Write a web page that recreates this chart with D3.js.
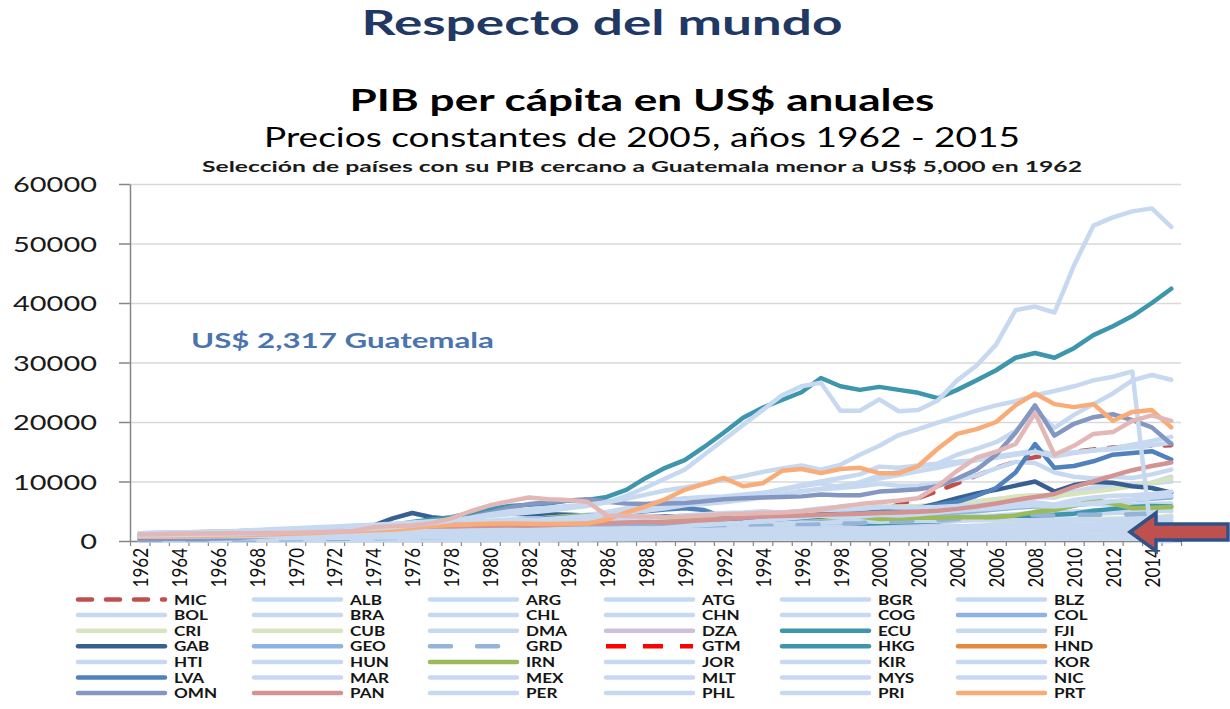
<!DOCTYPE html>
<html>
<head>
<meta charset="utf-8">
<script src="https://cdn.jsdelivr.net/npm/d3@7"></script>
<style>
  body { margin: 0; background: #fff; }
  svg text { font-family: Lato, "Open Sans", sans-serif; }
</style>
</head>
<body>
<svg id="chart" width="1230" height="709"></svg>
<script>
// ---------- data (PIB per capita, US$ constantes 2005) ----------
const years = [1962,1963,1964,1965,1966,1967,1968,1969,1970,1971,1972,1973,1974,1975,1976,1977,1978,1979,
  1980,1981,1982,1983,1984,1985,1986,1987,1988,1989,1990,1991,1992,1993,1994,1995,1996,1997,1998,1999,
  2000,2001,2002,2003,2004,2005,2006,2007,2008,2009,2010,2011,2012,2013,2014,2015];
const tickYears = [1962,1964,1966,1968,1970,1972,1974,1976,1978,1980,1982,1984,1986,1988,1990,1992,1994,
  1996,1998,2000,2002,2004,2006,2008,2010,2012,2014];
const yTicks = [0,10000,20000,30000,40000,50000,60000];

// legend order (also drawing order)
const codes = ["MIC","ALB","ARG","ATG","BGR","BLZ","BOL","BRA","CHL","CHN","COG","COL","CRI","CUB","DMA",
  "DZA","ECU","FJI","GAB","GEO","GRD","GTM","HKG","HND","HTI","HUN","IRN","JOR","KIR","KOR","LVA","MAR",
  "MEX","MLT","MYS","NIC","OMN","PAN","PER","PHL","PRI","PRT"];
// series drawn but left out of the (cut) legend
const extraCodes = ["MAC","TTO"];

const MIC = [280,300,320,340,360,380,400,430, 460,490,520,560,600,640,680,720,770,820,
  880,930,980,1050,1150,1300,1500,1700,1900,2100, 2350,2500,2650,2800,2950,3000,3100,3300,3700,4400,
  5200,6100,7200,8400,9700,11000,12300,13300,14100,14500, 15000,15400,15700,15900,16000,16100];
const ALB = [600,620,640,660,690,720,750,780, 810,840,870,900,930,960,990,1010,1040,1060,
  1090,1120,1140,1150,1160,1150,1170,1140,1110,1200, 1050,760,720,800,870,1000,1090,980,1080,1220,
  1300,1400,1450,1530,1620,1700,1800,1920,2090,2170, 2250,2300,2330,2360,2400,2470];
const ARG = [1250,1200,1300,1400,1450,1500,1550,1650, 1750,1850,1950,2100,2300,2400,2500,2700,2750,3000,
  3300,3200,3100,3200,3350,3200,3400,3600,3500,3300, 3400,3800,4200,4500,4900,4800,5100,5500,5700,5500,
  5400,5100,4500,4900,5400,5900,6400,7000,7400,7300, 8300,9000,9100,9400,9800,10800];
const ATG = [900,950,1000,1050,1100,1150,1200,1280, 1350,1420,1500,1580,1650,1700,1800,1950,2100,2300,
  2600,2900,3100,3400,3800,4300,4900,5500,6200,6800, 7200,7400,7500,7800,8100,7900,8400,8700,8900,9200,
  9600,9300,9300,9700,10300,11000,12200,13300,13100,11500, 10800,10500,10800,10600,11200,12000];
const BGR = [700,750,800,850,900,950,1000,1060, 1120,1180,1250,1320,1400,1480,1550,1620,1700,1760,
  1900,2000,2100,2200,2350,2450,2600,2750,2900,2850, 2600,2350,2200,2200,2250,2300,2100,2000,2150,2300,
  2500,2700,2900,3100,3350,3600,3900,4200,4600,4400, 4500,4600,4700,4800,4950,5200];
const BLZ = [650,680,700,730,760,800,830,870, 900,950,1000,1050,1120,1200,1250,1300,1400,1450,
  1550,1550,1500,1480,1520,1600,1700,1850,2050,2300, 2500,2600,2750,2800,2800,2750,2700,2750,2800,2900,
  3150,3250,3300,3450,3550,3600,3700,3700,3650,3600, 3650,3700,3750,3800,3900,4200];
const BOL = [650,670,690,720,750,780,800,820, 840,860,880,900,930,960,990,1000,1010,1000,
  990,980,940,900,880,860,830,820,830,840, 850,870,880,890,900,920,930,950,970,960,
  970,970,980,990,1010,1030,1060,1100,1150,1170, 1190,1220,1250,1300,1330,1360];
const BRA = [1000,1020,1050,1080,1150,1250,1380,1500, 1660,1820,1980,2150,2300,2380,2520,2600,2700,2800,
  2900,2800,2750,2600,2700,2850,3000,3050,3000,3050, 3300,3250,3200,3300,3450,3550,3600,3700,3650,3650,
  3900,3900,3950,3950,4100,4200,4300,4500,4700,4650, 4950,5100,5150,5250,5200,5000];
const CHL = [1300,1320,1350,1380,1450,1470,1500,1530, 1550,1680,1650,1560,1500,1300,1450,1650,1850,2050,
  2200,2350,2000,1950,2050,2150,2300,2450,2600,2750, 2800,3000,3400,3600,3800,4200,4400,4600,4700,4600,
  5000,5300,5600,5900,6300,6700,7000,7400,7700,7500, 8000,8500,9000,9400,9700,10000];
const CHN = [80,75,85,95,105,100,95,105, 120,125,130,135,140,140,135,145,160,170,
  180,190,200,215,240,270,290,310,340,360, 370,400,450,510,560,620,670,720,770,820,
  950,1030,1120,1230,1350,1480,1650,1850,2030,2210, 2400,2650,2850,3100,3300,3500];
const COG = [800,820,840,870,900,920,950,980, 1010,1050,1090,1120,1160,1200,1240,1200,1150,1250,
  1400,1550,1700,1750,1700,1650,1550,1500,1480,1450, 1500,1520,1500,1480,1400,1450,1450,1450,1500,1600,
  1750,1780,1790,1780,1790,1840,1900,1850,1900,1980, 2100,2110,2160,2150,2180,2100];
const COL = [1100,1150,1200,1250,1350,1450,1600,1750, 1900,2000,2100,2200,2300,2400,2500,2600,2750,2900,
  3000,3050,3050,3100,3150,3200,3300,3400,3500,3600, 3800,3800,3900,4000,4150,4300,4300,4400,4300,4150,
  4400,4450,4500,4600,4800,5000,5300,5600,5800,5800, 6000,6300,6600,6900,7100,7300];
const CRI = [1300,1300,1350,1400,1500,1600,1700,1850, 2000,2100,2250,2400,2450,2500,2600,2800,2950,3100,
  3300,3200,2800,2800,3000,3150,3350,3550,3700,3850, 4000,4050,4300,4500,4600,4550,4500,4650,4900,5400,
  5800,5800,5900,6100,6300,6600,7000,7500,7700,7500, 7900,8300,8700,9200,9800,10500];
const CUB = [700,720,740,760,780,800,820,850, 900,950,1000,1050,1100,1150,1200,1250,1300,1350,
  1400,1500,1550,1600,1650,1700,1750,1800,1800,1750, 1700,1500,1300,1200,1200,1250,1300,1400,1500,1550,
  1700,1750,1800,1900,2100,2400,2800,3100,3300,3350, 3500,3600,3700,3800,3900,4100];
const DMA = [1000,1020,1050,1080,1100,1150,1200,1250, 1300,1350,1400,1450,1500,1550,1600,1700,1800,1900,
  2100,2300,2500,2700,2900,3100,3300,3500,3700,3900, 4100,4300,4450,4600,4650,4700,4800,4900,5000,5100,
  5200,5100,5000,5100,5300,5400,5600,5900,6200,6100, 6200,6200,6100,6100,6200,6300];
const DZA = [900,950,1000,1050,1000,1050,1100,1200, 1300,1200,1400,1450,1500,1550,1650,1700,1800,1900,
  2150,2150,2200,2250,2250,2200,2150,2100,2050,2050, 2000,1980,1980,1950,1950,2000,2050,2100,2150,2180,
  2200,2250,2300,2400,2450,2550,2550,2600,2600,2600, 2650,2650,2700,2700,2750,2750];
const ECU = [1100,1100,1150,1200,1250,1300,1350,1400, 1500,1550,1650,1900,2000,2100,2250,2350,2500,2600,
  2700,2750,2700,2600,2650,2700,2600,2550,2700,2700, 2900,2950,3000,3050,3100,3100,3150,3200,3200,2900,
  3000,3100,3200,3300,3600,3750,3900,4050,4300,4400, 4600,5100,5400,5700,5900,5800];
const FJI = [1100,1130,1160,1200,1230,1270,1320,1380, 1460,1550,1650,1750,1850,1900,1950,2050,2100,2250,
  2400,2550,2550,2500,2650,2550,2700,2750,2850,2650, 2800,2850,2900,3000,3050,3050,3100,3050,3200,3300,
  3250,3300,3350,3400,3500,3500,3550,3500,3500,3400, 3450,3500,3550,3700,3800,3900];
const GAB = [700,750,800,850,900,950,1000,1100, 1200,1400,1600,1900,2600,3800,4700,4000,3700,4300,
  5000,4600,4500,4500,4400,4300,4200,3900,4000,4100, 4200,4300,4200,4200,4300,4400,4500,4600,4600,4500,
  4800,5100,5500,6300,7200,8000,8600,9300,10000,8300, 9400,9900,9800,9200,8900,8100];
const GEO = [900,950,1000,1050,1100,1150,1200,1250, 1300,1350,1400,1450,1500,1600,1700,1800,1900,2000,
  2100,2200,2300,2400,2500,2600,2700,2800,2850,2900, 2700,2100,1200,900,800,850,900,950,1000,1050,
  1100,1150,1200,1350,1450,1600,1750,1950,2000,1950, 2100,2250,2400,2500,2600,2700];
const GRD = [170,180,190,200,210,220,230,250, 280,310,350,400,450,500,550,620,700,800,
  900,1000,1100,1200,1300,1400,1500,1600,1700,1800, 1950,2100,2250,2400,2500,2600,2700,2800,2900,3000,
  3200,3300,3400,3500,3700,3900,4100,4300,4400,4300, 4400,4400,4400,4500,4600,4700];
const GTM = [1100,1150,1200,1230,1260,1300,1350,1400, 1450,1500,1550,1600,1680,1720,1780,1850,1900,1950,
  2000,1950,1870,1800,1780,1750,1720,1700,1720,1750, 1750,1770,1800,1820,1850,1880,1900,1920,1950,1980,
  1990,1990,2000,2000,2020,2050,2100,2170,2200,2180, 2190,2220,2240,2260,2290,2317];
const HKG = [600,650,700,800,900,1000,1150,1300, 1500,1700,1900,2200,2500,2700,3200,3600,4000,4700,
  5400,5900,6100,6300,6800,6900,7400,8600,10600,12300, 13600,15800,18200,20700,22400,23700,25000,27400,26000,25400,
  25900,25400,24900,24000,25400,27000,28700,30800,31600,30800, 32400,34600,36100,37800,40000,42400];
const HND = [900,920,940,970,1000,1030,1050,1080, 1100,1100,1120,1150,1180,1200,1180,1250,1350,1450,
  1500,1480,1400,1370,1380,1400,1420,1430,1460,1470, 1450,1460,1500,1560,1530,1560,1580,1600,1650,1600,
  1650,1650,1680,1700,1750,1800,1870,1950,1970,1900, 1920,1950,1970,1980,2000,2050];
const HTI = [500,480,470,460,450,460,470,480, 500,520,540,560,580,600,620,640,660,680,
  700,680,650,640,630,620,610,600,590,580, 570,560,520,500,450,460,470,480,490,500,
  490,480,470,470,440,440,440,450,450,460, 440,460,460,470,470,460];
const HUN = [900,950,1000,1080,1160,1250,1400,1600, 1800,1900,2000,2100,2250,2400,2550,2700,2900,3100,
  3300,3500,3700,3900,4100,4400,4700,5000,5400,5700, 6000,6200,6500,6900,7300,7800,8300,8800,9300,9800,
  10500,11100,11700,12300,13000,13600,14200,14700,15200,14600, 14900,15200,15400,15700,16100,16500];
const IRN = [800,850,900,950,1000,1050,1100,1200, 1300,1400,1500,1700,1900,2200,2600,2500,2300,2200,
  2400,2700,3300,3900,4200,4300,3700,3500,3300,3400, 3700,3900,4000,3900,3800,3800,4000,4000,4000,4100,
  3700,3800,3900,3900,4000,4000,4000,4300,4900,5200, 5900,6900,6300,5500,5600,5700];
const JOR = [600,640,680,720,760,800,780,820, 850,880,920,960,1000,1050,1150,1250,1350,1500,
  1700,1850,1900,1950,2000,2050,2050,2100,2150,2000, 1850,1800,1950,2000,2050,2100,2100,2100,2100,2100,
  2150,2200,2250,2300,2400,2500,2600,2700,2800,2750, 2750,2750,2750,2750,2800,2800];
const KIR = [600,620,640,660,700,740,780,820, 900,1000,1100,1200,1300,1200,1000,900,900,950,
  900,950,1000,1000,1050,1000,1000,1000,1050,1050, 1100,1100,1100,1150,1150,1200,1200,1250,1250,1300,
  1300,1300,1300,1300,1250,1250,1250,1250,1250,1250, 1250,1250,1300,1350,1400,1400];
const KOR = [900,950,1000,1050,1150,1200,1300,1450, 1550,1650,1700,1900,2000,2100,2300,2500,2700,2850,
  2750,2900,3100,3400,3700,3900,4300,4800,5200,5600, 6100,6600,7000,7400,8000,8700,9200,9700,9000,9900,
  11000,11600,12500,13000,14500,15500,16600,18500,22000,19000, 21200,23000,24800,27000,27900,27100];
const LVA = [1300,1350,1400,1480,1560,1650,1750,1850, 1950,2050,2150,2250,2350,2450,2550,2700,2850,3000,
  3200,3400,3600,3800,4000,4200,4400,4700,5000,5300, 5500,5200,4000,3400,3500,3700,3900,4100,4400,4650,
  4900,5300,5500,6100,6600,7600,8900,11500,16300,12300, 12600,13400,14500,14800,15100,13700];
const MAR = [500,520,540,560,580,600,620,640, 680,700,720,740,780,800,860,900,920,960,
  1000,980,1040,1040,1070,1110,1150,1200,1230,1250, 1300,1350,1300,1320,1430,1300,1420,1380,1480,1470,
  1470,1540,1570,1650,1700,1720,1820,1850,1920,1970, 2030,2100,2150,2200,2250,2300];
const MEX = [1300,1350,1450,1500,1550,1600,1700,1800, 2000,2100,2200,2350,2450,2550,2650,2750,2950,3200,
  3400,3600,3600,3500,3600,3700,3600,3700,3800,4000, 4300,4500,4700,4800,5000,4700,4900,5200,5300,5400,
  5700,5650,5650,5700,5900,6000,6300,6400,6500,6100, 6900,7300,7600,7700,7900,8300];
const MLT = [800,800,820,850,900,950,1000,1100, 1200,1300,1400,1550,1700,1850,2050,2250,2450,2700,
  2950,3250,3500,3700,3950,4200,4500,4800,5100,5500, 6000,6500,7000,7500,8000,8700,9400,10000,10600,11200,
  12500,12300,12700,13000,13300,13600,14000,14500,15000,14200, 14800,15200,15600,16200,16800,17500];
const MYS = [450,470,490,510,530,550,570,600, 640,690,740,800,860,900,980,1080,1180,1300,
  1400,1500,1600,1700,1800,1750,1700,1800,1950,2200, 2500,2700,2900,3100,3400,3700,4000,4300,3900,4100,
  4400,4300,4500,4800,5100,5300,5500,5800,6000,5800, 6100,6400,6700,6900,7300,7600];
const NIC = [900,950,1050,1100,1150,1150,1200,1200, 1200,1250,1250,1250,1350,1400,1450,1500,1450,1050,
  1100,1150,1100,1100,1050,1000,980,950,850,850, 820,800,800,790,800,820,840,860,880,900,
  920,930,920,930,960,980,1000,1020,1040,1000, 1050,1100,1130,1170,1210,1250];
const OMN = [300,320,350,380,420,500,700,900, 1100,1200,1300,1500,1800,2200,2600,2900,3300,4000,
  4800,5600,6200,6500,6800,7000,6600,6300,6200,6300, 6400,6700,7000,7200,7300,7400,7500,7800,7700,7700,
  8300,8500,8700,9200,10500,12000,14500,18200,22800,17700, 19700,20800,21300,20300,19100,16300];
const PAN = [1100,1150,1200,1250,1300,1350,1400,1450, 1550,1600,1700,1800,1850,1900,1950,2000,2050,2100,
  2300,2500,2600,2700,2800,2900,3000,3100,3200,3100, 3300,3500,3700,3900,4100,4200,4300,4400,4500,4600,
  4700,4800,4900,5100,5400,5800,6300,6900,7400,7900, 9100,10000,11000,11900,12600,13200];
const PER = [1300,1350,1400,1450,1500,1500,1450,1500, 1550,1600,1600,1650,1700,1750,1750,1700,1700,1750,
  1800,1850,1800,1600,1600,1600,1750,1850,1650,1450, 1350,1350,1350,1400,1550,1650,1650,1700,1650,1650,
  1800,1800,1850,1900,1950,2050,2150,2300,2450,2450, 2600,2750,2900,3050,3100,3200];
const PHL = [700,720,740,760,780,800,820,840, 860,880,900,950,1000,1020,1050,1080,1100,1130,
  1150,1150,1160,1100,1000,950,950,960,1000,1030, 1020,990,980,990,1020,1050,1080,1070,1080,1090,
  1110,1120,1140,1170,1200,1230,1260,1300,1330,1320, 1400,1420,1480,1560,1620,1680];
const PRI = [1200,1300,1400,1500,1600,1700,1850,2000, 2150,2300,2450,2600,2750,2900,3100,3300,3550,3800,
  4200,4500,4800,5100,5500,5900,6500,7100,7800,8500, 9000,9600,10300,10900,11600,12200,12700,12000,12800,14500,
  16000,17800,18800,19900,20900,21900,22800,23500,24500,25200, 26000,27000,27600,28500,0,0];
const PRT = [700,750,800,850,900,950,1050,1150, 1250,1350,1500,1650,1800,1900,2200,2500,2700,2800,
  2900,2950,2900,2850,2900,2950,3600,4800,5800,7000, 8600,9600,10600,9200,9700,11800,12100,11400,12100,12300,
  11400,11400,12600,15500,18000,18800,20000,22800,24800,23000, 22500,23000,20200,21700,22000,19100];
const MAC = [900,950,1000,1050,1100,1150,1250,1350, 1450,1550,1700,1900,2100,2300,2600,3000,3400,3900,
  4500,5000,5300,5600,5900,6100,6500,7600,9000,10500, 12000,14500,17000,19500,22000,24500,26000,26600,21900,21900,
  23800,21800,22000,23600,27000,29500,33000,38800,39400,38400, 46300,53000,54400,55400,55900,52800];
const TTO = [1100,1150,1200,1250,1280,1300,1320,1350, 1400,1450,1550,1700,2300,2500,2600,3000,3800,5000,
  6000,6700,7300,7000,6900,6600,4300,4200,4100,4000, 4100,4300,4500,4600,4700,4800,5000,5300,5800,6200,
  6500,6800,7200,9200,11800,14000,15000,16300,21500,14500, 16000,18000,18300,20200,21100,20200];

const values = {MIC,ALB,ARG,ATG,BGR,BLZ,BOL,BRA,CHL,CHN,COG,COL,CRI,CUB,DMA,DZA,ECU,FJI,GAB,GEO,GRD,GTM,
  HKG,HND,HTI,HUN,IRN,JOR,KIR,KOR,LVA,MAR,MEX,MLT,MYS,NIC,OMN,PAN,PER,PHL,PRI,PRT,MAC,TTO};

// ---------- styles ----------
const lightBlue = "#c6d9f0";
const colors = {
  MIC: "#c0504d", COL: "#8db3e2", CRI: "#d7e4bd", CUB: "#d7e4bd", DZA: "#ccc1da", ECU: "#3d96ac",
  GAB: "#376092", GEO: "#8db3e2", GRD: "#95b3d7", GTM: "#ff0000", HKG: "#3d96ac", HND: "#e38a3e",
  IRN: "#9bbb59", LVA: "#4f81bd", OMN: "#8497c2", PAN: "#d49390", PRT: "#f9ac78", TTO: "#e3b7b5"
};
const dashes = { MIC: "14,14", GRD: "21,26", GTM: "20,17" };
const colorOf = c => colors[c] || lightBlue;

const svg = d3.select("#chart");
const plotLeft = 130, plotRight = 1181, plotTop = 184, plotBottom = 541;

const x = d3.scalePoint().domain(years).range([plotLeft, plotRight]).padding(0.5);
const xb = d3.scaleLinear().domain([0, years.length]).range([plotLeft, plotRight]);
const y = d3.scaleLinear().domain([0, 60000]).range([plotBottom, plotTop]);

// stretch text horizontally (the slide was widened)
function stretch(sel, k) {
  sel.each(function() {
    const w = this.getComputedTextLength();
    this.setAttribute("textLength", w * k);
    this.setAttribute("lengthAdjust", "spacingAndGlyphs");
  });
}

// ---------- titles ----------
svg.append("text").attr("x", 602).attr("y", 35).attr("text-anchor", "middle")
  .attr("font-size", 34).attr("font-weight", "bold").attr("fill", "#1f3864")
  .attr("textLength", 481).attr("lengthAdjust", "spacingAndGlyphs")
  .text("Respecto del mundo");
svg.append("text").attr("x", 642).attr("y", 111).attr("text-anchor", "middle")
  .attr("font-size", 30).attr("font-weight", "bold").attr("fill", "#000")
  .attr("textLength", 585).attr("lengthAdjust", "spacingAndGlyphs")
  .text("PIB per cápita en US$ anuales");
svg.append("text").attr("x", 642).attr("y", 147).attr("text-anchor", "middle")
  .attr("font-size", 26).attr("fill", "#000")
  .attr("textLength", 756).attr("lengthAdjust", "spacingAndGlyphs")
  .text("Precios constantes de 2005, años 1962 - 2015");
svg.append("text").attr("x", 642).attr("y", 172).attr("text-anchor", "middle")
  .attr("font-size", 15.5).attr("font-weight", "bold").attr("fill", "#1a1a1a")
  .attr("textLength", 880).attr("lengthAdjust", "spacingAndGlyphs")
  .text("Selección de países con su PIB cercano a Guatemala menor a US$ 5,000 en 1962");

// ---------- grid + axes ----------
svg.append("g").attr("transform", `translate(${plotLeft},0)`)
  .call(d3.axisLeft(y).tickValues(yTicks).tickSize(-(plotRight - plotLeft)).tickFormat(""))
  .call(g => g.select(".domain").remove())
  .call(g => g.selectAll("line").attr("stroke", "#d9d9d9").attr("stroke-width", 1.5));

const yAxis = svg.append("g").attr("transform", `translate(${plotLeft},0)`)
  .call(d3.axisLeft(y).tickValues(yTicks).tickSize(11).tickSizeOuter(0).tickPadding(22).tickFormat(d => d));
yAxis.select(".domain").attr("stroke", "#868686").attr("stroke-width", 1.5);
yAxis.selectAll("line").attr("stroke", "#868686").attr("stroke-width", 1.5);
yAxis.selectAll("text").attr("font-size", 22).attr("fill", "#1a1a1a").attr("font-family", "Lato, sans-serif")
  .attr("dy", "0.36em")
  .each(function(d) { this.setAttribute("textLength", String(d).length * 16.8); this.setAttribute("lengthAdjust", "spacingAndGlyphs"); });

const xTicks = svg.append("g").attr("transform", `translate(0,${plotBottom})`)
  .call(d3.axisBottom(xb).tickValues(d3.range(0, years.length + 1)).tickSize(5).tickSizeOuter(0).tickFormat(""));
xTicks.select(".domain").attr("stroke", "#868686").attr("stroke-width", 1.5);
xTicks.selectAll("line").attr("stroke", "#868686").attr("stroke-width", 1.2);

const xLabels = svg.append("g").attr("transform", `translate(0,${plotBottom})`)
  .call(d3.axisBottom(x).tickValues(tickYears).tickSize(0).tickFormat(String));
xLabels.select(".domain").remove();
xLabels.selectAll("text")
  .attr("x", 0).attr("y", 0).attr("dy", "0.36em")
  .attr("text-anchor", "end").attr("font-size", 17).attr("fill", "#111")
  .attr("font-family", "Lato, sans-serif")
  .attr("transform", "translate(0,7) scale(1.24,1) rotate(-90)");

// ---------- lines ----------
const line = d3.line().x((d, i) => x(years[i])).y(d => y(d));
const drawOrder = codes.concat(extraCodes);
svg.append("g").selectAll("path")
  .data(drawOrder)
  .join("path")
  .attr("d", c => line(values[c]))
  .attr("fill", "none")
  .attr("stroke", colorOf)
  .attr("stroke-width", 4.5)
  .attr("stroke-linejoin", "round")
  .attr("stroke-linecap", c => c === "GTM" ? "butt" : "round")
  .attr("stroke-dasharray", c => dashes[c] || null);

// ---------- annotation ----------
svg.append("text").attr("x", 191).attr("y", 348)
  .attr("font-size", 21).attr("font-weight", "bold").attr("fill", "#4a74b0")
  .attr("textLength", 303).attr("lengthAdjust", "spacingAndGlyphs")
  .text("US$ 2,317 Guatemala");

svg.append("path")
  .attr("d", "M1130,532 L1156,513 L1156,524 L1228,524 L1228,540 L1156,540 L1156,551 Z")
  .attr("fill", "#c0504d").attr("stroke", "#2f5389").attr("stroke-width", 3.5)
  .attr("stroke-linejoin", "miter");

// ---------- legend ----------
const colX = 76, colStep = 176, rowY = 599.5, rowStep = 15.6;
const leg = svg.append("g").selectAll("g")
  .data(codes)
  .join("g")
  .attr("transform", (c, i) => `translate(${colX + (i % 6) * colStep},${rowY + Math.floor(i / 6) * rowStep})`);
leg.append("line")
  .attr("x1", 2).attr("x2", 89).attr("y1", 0).attr("y2", 0)
  .attr("stroke", colorOf).attr("stroke-width", 4.5)
  .attr("stroke-linecap", c => c === "GTM" ? "butt" : "round")
  .attr("stroke-dasharray", c => dashes[c] || null);
leg.append("text")
  .attr("x", 98).attr("y", 5)
  .attr("font-size", 14).attr("font-weight", "bold").attr("fill", "#151515")
  .text(c => c)
  .call(stretch, 1.22);
</script>
</body>
</html>
